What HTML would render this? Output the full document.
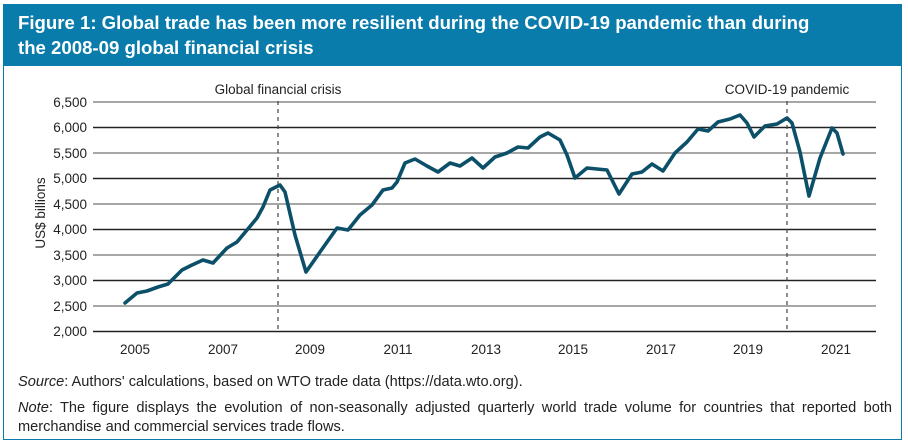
<!DOCTYPE html>
<html><head><meta charset="utf-8"><style>
body{margin:0;background:#fff;width:908px;height:446px;overflow:hidden;font-family:"Liberation Sans",sans-serif}
#fr{position:absolute;left:3px;top:4px;width:899px;height:436px;border:1.5px solid #0a7cab;box-sizing:border-box}
#hd{position:absolute;left:3px;top:4px;width:899px;height:62px;background:#0a7cab;color:#fff;font-weight:bold;font-size:18.6px;line-height:25px;padding:6px 0 0 15px;box-sizing:border-box;white-space:nowrap}
.ft{position:absolute;left:18px;font-size:14.6px;color:#222}
</style></head><body>
<div id="fr"></div>
<div id="hd">Figure 1: Global trade has been more resilient during the COVID-19 pandemic than during<br>the 2008-09 global financial crisis</div>
<svg width="908" height="446" style="position:absolute;left:0;top:0" font-family="Liberation Sans, sans-serif">
<g stroke-width="1.5">
<line x1="93" x2="876" y1="102" y2="102" stroke="#8a8a8a"/>
<line x1="93" x2="876" y1="127.5" y2="127.5" stroke="#222"/>
<line x1="93" x2="876" y1="153" y2="153" stroke="#8a8a8a"/>
<line x1="93" x2="876" y1="178.5" y2="178.5" stroke="#222"/>
<line x1="93" x2="876" y1="204" y2="204" stroke="#8a8a8a"/>
<line x1="93" x2="876" y1="229.5" y2="229.5" stroke="#222"/>
<line x1="93" x2="876" y1="255" y2="255" stroke="#8a8a8a"/>
<line x1="93" x2="876" y1="280.5" y2="280.5" stroke="#222"/>
<line x1="93" x2="876" y1="306" y2="306" stroke="#8a8a8a"/>
<line x1="93" x2="876" y1="331.5" y2="331.5" stroke="#222"/>
</g>
<g font-size="13.5" fill="#222" text-anchor="end">
<text x="87" y="107">6,500</text><text x="87" y="132">6,000</text><text x="87" y="158">5,500</text><text x="87" y="183">5,000</text><text x="87" y="209">4,500</text><text x="87" y="234">4,000</text><text x="87" y="260">3,500</text><text x="87" y="285">3,000</text><text x="87" y="311">2,500</text><text x="87" y="336">2,000</text>
</g>
<text transform="translate(45,213) rotate(-90)" font-size="13.5" fill="#222" text-anchor="middle">US$ billions</text>
<g font-size="13.5" fill="#222" text-anchor="middle">
<text x="135" y="354">2005</text><text x="223" y="354">2007</text><text x="310" y="354">2009</text><text x="398" y="354">2011</text><text x="486" y="354">2013</text><text x="573" y="354">2015</text><text x="661" y="354">2017</text><text x="748" y="354">2019</text><text x="836" y="354">2021</text>
<text x="278" y="94">Global financial crisis</text><text x="787" y="94">COVID-19 pandemic</text>
</g>
<g stroke="#444" stroke-width="1.2" stroke-dasharray="4,4">
<line x1="278" x2="278" y1="101" y2="332"/><line x1="787" x2="787" y1="101" y2="332"/>
</g>
<polyline fill="none" stroke="#0b4f69" stroke-width="3.6" stroke-linejoin="round" stroke-linecap="round" points="125,303 137,293 147,291 158,287 168,284 182,270 192,265 203,260 213,263 227,248 237,242 247,230 257,218 263,207 270,190 280,185 285,192 295,235 306,272 320,252 337,228 348,230 360,215 372,205 383,190 392,188 397,182 405,163 415,159 427,166 438,172 450,163 460,166 472,158 483,168 495,157 507,153 518,147 528,148 540,137 548,133 560,140 567,155 575,178 587,168 597,169 607,170 619,194 632,174 642,172 652,164 663,171 675,153 687,142 698,129 708,131 718,122 730,119 740,115 747,123 754,137 765,126 777,124 787,118 792,123 800,152 809,196 820,158 832,128 837,133 843,154"/>
</svg>
<div class="ft" style="top:374px"><i>Source</i>: Authors' calculations, based on WTO trade data (https://data.wto.org).</div>
<div class="ft" style="top:399px;width:874px;text-align:justify;text-align-last:left;line-height:19px"><i>Note</i>: The figure displays the evolution of non-seasonally adjusted quarterly world trade volume for countries that reported both merchandise and commercial services trade flows.</div>
</body></html>
